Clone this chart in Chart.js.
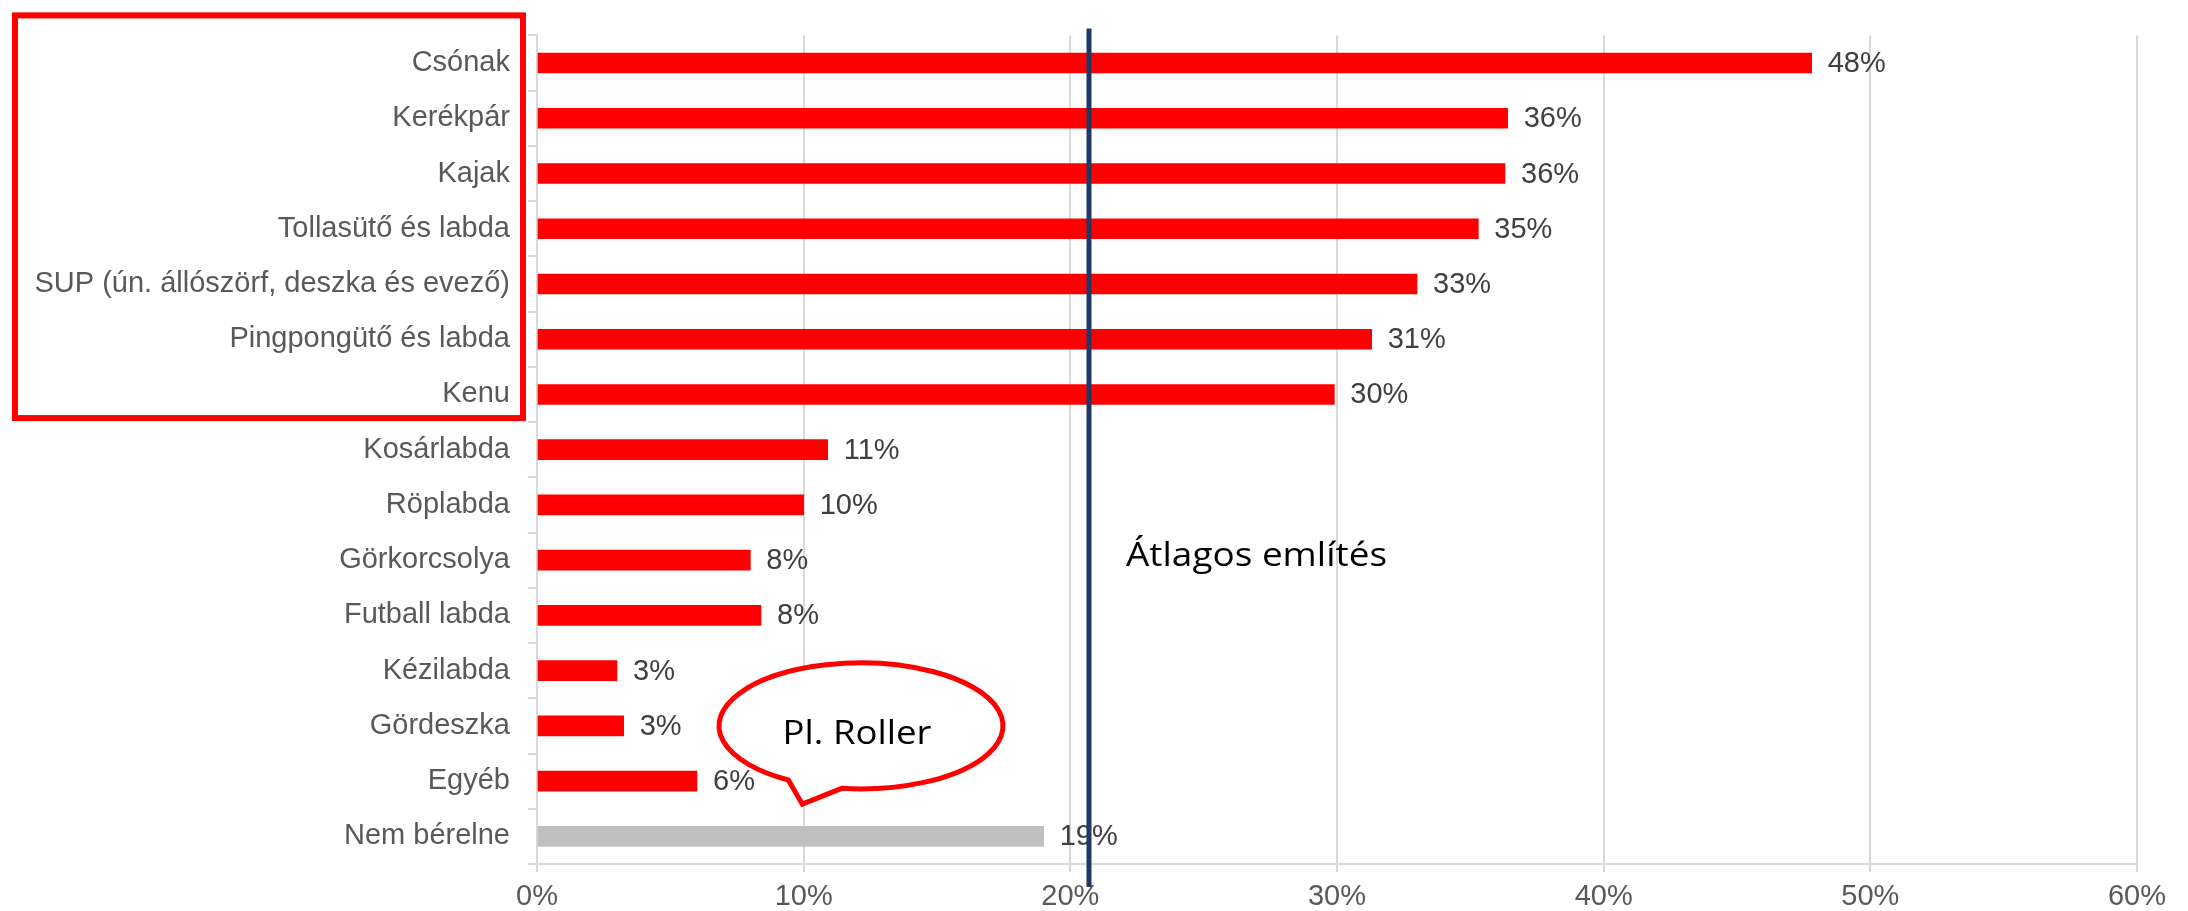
<!DOCTYPE html>
<html>
<head>
<meta charset="utf-8">
<script src="https://cdn.jsdelivr.net/npm/chart.js@4"></script>
<style>
  html, body { margin: 0; padding: 0; background: #ffffff; }
  #wrap { width: 2188px; height: 911px; position: relative; }
</style>
</head>
<body>
<div id="wrap"><canvas id="c" width="2188" height="911"></canvas></div>
<script>
const categories = [
  "Csónak", "Kerékpár", "Kajak", "Tollasütő és labda",
  "SUP (ún. állószörf, deszka és evező)", "Pingpongütő és labda", "Kenu",
  "Kosárlabda", "Röplabda", "Görkorcsolya", "Futball labda",
  "Kézilabda", "Gördeszka", "Egyéb", "Nem bérelne"
];
const values = [47.8, 36.4, 36.3, 35.3, 33.0, 31.3, 29.9, 10.9, 10.0, 8.0, 8.4, 3.0, 3.25, 6.0, 19.0];
const valueLabels = ["48%", "36%", "36%", "35%", "33%", "31%", "30%", "11%", "10%", "8%", "8%", "3%", "3%", "6%", "19%"];
const averageValue = 20.7;
const averageLabel = "Átlagos említés";
const bubbleLabel = "Pl. Roller";
const xMin = 0, xMax = 60, xStep = 10;

const RED = "#FF0000", GRAY_BAR = "#BFBFBF", GRID = "#D9D9D9";
const AX_FONT = '"Liberation Sans", Arial, sans-serif';
const NOTE_FONT = '"Open Sans", "Noto Sans", sans-serif';

function fitText(ctx, text, x, y, targetWidth, align) {
  const w = ctx.measureText(text).width;
  const k = targetWidth / w;
  ctx.save();
  ctx.translate(x, y);
  ctx.scale(k, 1);
  ctx.textAlign = align;
  ctx.fillText(text, 0, 0);
  ctx.restore();
}

const overlay = {
  id: "overlay",
  afterDatasetsDraw(chart) {
    const { ctx, chartArea, scales } = chart;
    const xs = scales.x, ys = scales.y;
    const meta = chart.getDatasetMeta(0);
    ctx.save();
    // value labels
    ctx.font = "29px " + AX_FONT;
    ctx.fillStyle = "#404040";
    ctx.textAlign = "left";
    ctx.textBaseline = "middle";
    meta.data.forEach((bar, i) => ctx.fillText(valueLabels[i], bar.x + 16, bar.y + 1));

    // average line
    const ax = xs.getPixelForValue(averageValue);
    ctx.strokeStyle = "#1F3864";
    ctx.lineWidth = 5;
    ctx.beginPath();
    ctx.moveTo(ax, chartArea.top - 7);
    ctx.lineTo(ax, chartArea.bottom + 23);
    ctx.stroke();

    ctx.font = "33px " + NOTE_FONT;
    ctx.fillStyle = "#000000";
    ctx.textBaseline = "middle";
    fitText(ctx, averageLabel, ax + 37, ys.getPixelForValue(9) - 4, 261, "left");

    // speech bubble
    const cx = xs.getPixelForValue(12.15), cy = ys.getPixelForValue(12);
    const rx = 142, ry = 63;
    const tipX = xs.getPixelForValue(9.95), tipY = ys.getPixelForValue(13) + 23;
    const a1 = 120.8 * Math.PI / 180, a2 = 97.8 * Math.PI / 180;
    ctx.beginPath();
    ctx.ellipse(cx, cy, rx, ry, 0, a1, a2, false);
    ctx.lineTo(tipX, tipY);
    ctx.closePath();
    ctx.fillStyle = "#FFFFFF";
    ctx.fill();
    ctx.strokeStyle = RED;
    ctx.lineWidth = 5;
    ctx.lineJoin = "miter";
    ctx.stroke();
    ctx.fillStyle = "#000000";
    fitText(ctx, bubbleLabel, cx - 4, cy + 9, 149, "center");

    // highlight box around top seven labels
    const bottom = (ys.getPixelForValue(6) + ys.getPixelForValue(7)) / 2 - 4;
    ctx.strokeStyle = RED;
    ctx.lineWidth = 6;
    ctx.strokeRect(15, chartArea.top - 20, ys.right - 15 - 14, bottom - (chartArea.top - 20));
    ctx.restore();
  }
};

new Chart(document.getElementById("c"), {
  type: "bar",
  data: {
    labels: categories,
    datasets: [{
      data: values,
      backgroundColor: (c) => c.index === categories.length - 1 ? GRAY_BAR : RED,
      barThickness: 20,
      borderWidth: 0
    }]
  },
  options: {
    indexAxis: "y",
    responsive: false,
    animation: false,
    events: [],
    layout: { padding: { top: 31, right: 51, left: 0, bottom: 0 } },
    plugins: { legend: { display: false }, tooltip: { enabled: false } },
    scales: {
      x: {
        min: xMin, max: xMax,
        ticks: {
          stepSize: xStep,
          callback: (v) => v + "%",
          color: "#595959",
          font: { family: AX_FONT, size: 29 },
          padding: 8
        },
        grid: { color: GRID, lineWidth: 2, tickLength: 8 },
        border: { color: GRID, width: 2 },
        afterFit: (s) => { s.height = 47; }
      },
      y: {
        ticks: {
          color: "#595959",
          font: { family: AX_FONT, size: 29 },
          padding: 18,
          autoSkip: false
        },
        grid: { drawOnChartArea: false, offset: true, color: GRID, lineWidth: 2, tickLength: 9 },
        border: { color: GRID, width: 2 },
        afterFit: (s) => { s.width = 537; }
      }
    }
  },
  plugins: [overlay]
});
</script>
</body>
</html>
